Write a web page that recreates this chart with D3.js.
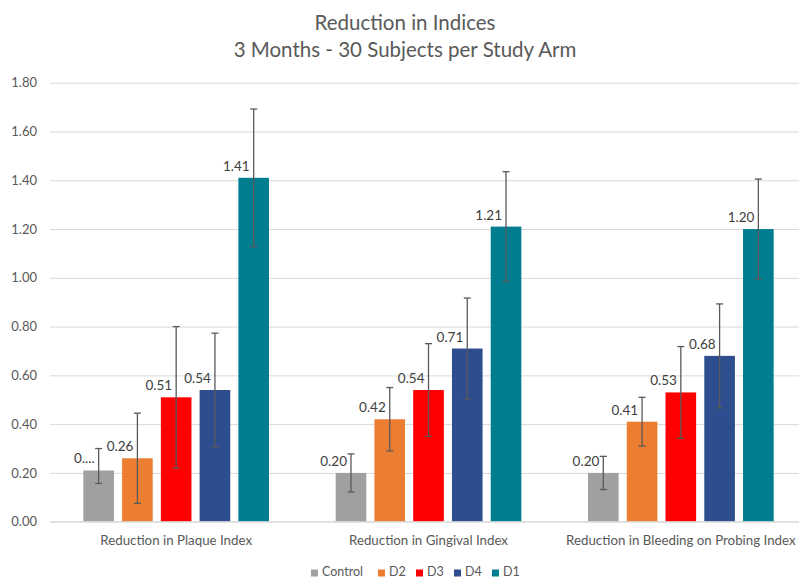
<!DOCTYPE html>
<html>
<head>
<meta charset="utf-8">
<script src="https://cdn.jsdelivr.net/npm/d3@7"></script>
<style>
  body { margin: 0; background: #fff; }
  text { font-family: Lato, "Open Sans", sans-serif; }
</style>
</head>
<body>
<div id="chart_div"></div>
<script>
// chart data
const categories = ["Reduction in Plaque Index", "Reduction in Gingival Index", "Reduction in Bleeding on Probing Index"];
const series_names = ["Control", "D2", "D3", "D4", "D1"];
const series_colors = ["#a0a0a0", "#ed7d31", "#ff0000", "#2e4d8f", "#007d8f"];
// bar values per series (one value per category)
const control_values = [0.21, 0.20, 0.20];
const d2_values = [0.26, 0.42, 0.41];
const d3_values = [0.51, 0.54, 0.53];
const d4_values = [0.54, 0.71, 0.68];
const d1_values = [1.41, 1.21, 1.20];
// error bar amounts (plus / minus)
const control_err_plus = [0.09, 0.078, 0.068];
const control_err_minus = [0.053, 0.078, 0.068];
const d2_err = [0.185, 0.13, 0.10];
const d3_err = [0.29, 0.19, 0.188];
const d4_err = [0.233, 0.207, 0.213];
const d1_err = [0.282, 0.225, 0.205];
// labels shown on top of the bars
const control_labels = ["0....", "0.20", "0.20"];
const y_ticks = [0, 0.2, 0.4, 0.6, 0.8, 1.0, 1.2, 1.4, 1.6, 1.8];

const values_by_series = [control_values, d2_values, d3_values, d4_values, d1_values];
const err_plus_by_series = [control_err_plus, d2_err, d3_err, d4_err, d1_err];
const err_minus_by_series = [control_err_minus, d2_err, d3_err, d4_err, d1_err];

const chart_width = 799, chart_height = 579;
const plot_left = 50, plot_right = 807, plot_top = 82.7, plot_bottom = 521.7;

const svg = d3.select("#chart_div")
  .append("svg")
    .attr("width", chart_width)
    .attr("height", chart_height);

// build a flat table for the bars
const bar_data = [];
categories.forEach((cat, ci) => {
  series_names.forEach((s, si) => {
    const v = values_by_series[si][ci];
    bar_data.push({
      category: cat, series: s, si: si, value: v,
      hi: v + err_plus_by_series[si][ci],
      lo: v - err_minus_by_series[si][ci],
      label: si === 0 ? control_labels[ci] : d3.format(".2f")(v)
    });
  });
});

// scales
const x0 = d3.scaleBand().domain(categories).range([plot_left, plot_right]).padding(0);
const x1 = d3.scaleBand().domain(series_names).range([0, x0.bandwidth()])
  .paddingInner(0.21).paddingOuter(0.86);
const y = d3.scaleLinear().domain([0, 1.8]).range([plot_bottom, plot_top]);
const color = d3.scaleOrdinal().domain(series_names).range(series_colors);

// title
svg.append("text")
  .attr("x", 405).attr("y", 30)
  .attr("text-anchor", "middle")
  .style("font-size", "20.5px").style("fill", "#595959")
  .text("Reduction in Indices");
svg.append("text")
  .attr("x", 405).attr("y", 57)
  .attr("text-anchor", "middle")
  .style("font-size", "20.5px").style("fill", "#595959")
  .text("3 Months - 30 Subjects per Study Arm");

// gridlines + y labels
const y_axis = svg.append("g")
  .attr("transform", `translate(${plot_left},0)`)
  .call(d3.axisLeft(y).tickValues(y_ticks).tickFormat(d3.format(".2f"))
    .tickSize(-(chart_width - plot_left)).tickPadding(13));
y_axis.select(".domain").remove();
y_axis.selectAll(".tick line").attr("stroke", "#d9d9d9").attr("stroke-width", 1);
y_axis.selectAll(".tick text").style("font-size", "13px").style("fill", "#595959")
  .style("font-family", "Lato, 'Open Sans', sans-serif");

// bars
svg.append("g")
  .selectAll("rect")
  .data(bar_data)
  .join("rect")
    .attr("x", d => x0(d.category) + x1(d.series))
    .attr("y", d => y(d.value))
    .attr("width", x1.bandwidth())
    .attr("height", d => y(0) - y(d.value))
    .attr("fill", d => color(d.series));

// baseline
svg.append("line")
  .attr("x1", plot_left).attr("x2", chart_width)
  .attr("y1", y(0)).attr("y2", y(0))
  .attr("stroke", "#d9d9d9");

// error bars
const err_g = svg.append("g").attr("stroke", "#595959").attr("stroke-width", 1.3);
const cx = d => x0(d.category) + x1(d.series) + x1.bandwidth() / 2;
err_g.selectAll(".err_v").data(bar_data).join("line")
  .attr("x1", cx).attr("x2", cx)
  .attr("y1", d => y(d.hi)).attr("y2", d => y(d.lo));
err_g.selectAll(".err_t").data(bar_data).join("line")
  .attr("x1", d => cx(d) - 3.5).attr("x2", d => cx(d) + 3.5)
  .attr("y1", d => y(d.hi)).attr("y2", d => y(d.hi));
err_g.selectAll(".err_b").data(bar_data).join("line")
  .attr("x1", d => cx(d) - 3.5).attr("x2", d => cx(d) + 3.5)
  .attr("y1", d => y(d.lo)).attr("y2", d => y(d.lo));

// value labels
svg.append("g")
  .selectAll("text")
  .data(bar_data)
  .join("text")
    .attr("x", d => cx(d) - 4)
    .attr("y", d => y(d.value) - 7)
    .attr("text-anchor", "end")
    .style("font-size", "13.5px").style("fill", "#404040")
    .text(d => d.label);

// category labels
svg.append("g")
  .selectAll("text")
  .data(categories)
  .join("text")
    .attr("x", d => x0(d) + x0.bandwidth() / 2)
    .attr("y", 545)
    .attr("text-anchor", "middle")
    .style("font-size", "13.3px").style("fill", "#595959")
    .text(d => d);

// legend
const legend_x = [311, 378, 416, 454, 492];
const legend = svg.append("g");
series_names.forEach((s, i) => {
  legend.append("rect")
    .attr("x", legend_x[i]).attr("y", 569.5)
    .attr("width", 7).attr("height", 7)
    .attr("fill", color(s));
  legend.append("text")
    .attr("x", legend_x[i] + 11).attr("y", 576)
    .style("font-size", "12.5px").style("fill", "#595959")
    .text(s);
});
</script>
</body>
</html>
